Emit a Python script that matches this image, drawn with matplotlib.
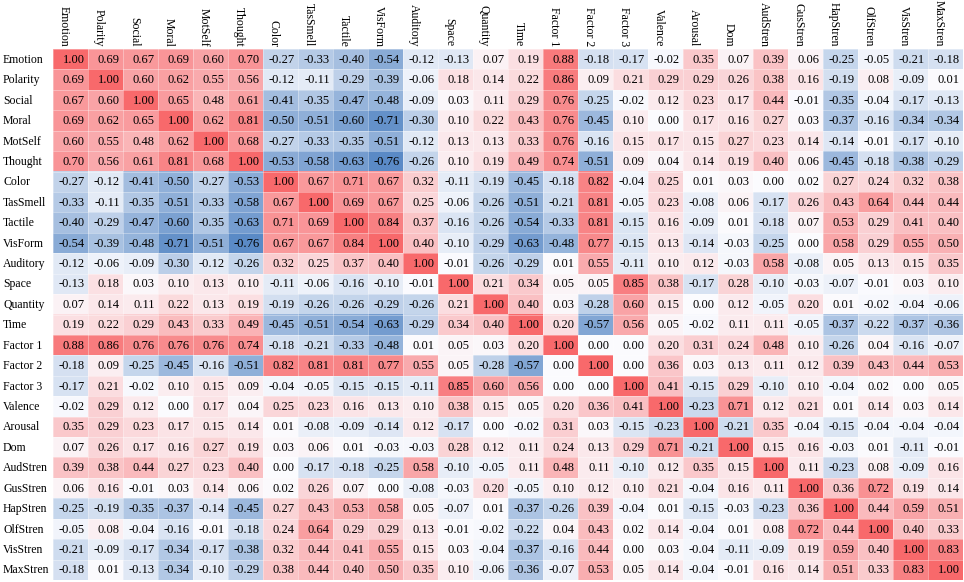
import numpy as np
import matplotlib
matplotlib.use("Agg")
import matplotlib.pyplot as plt
from matplotlib.colors import LinearSegmentedColormap, TwoSlopeNorm

labels = ["Emotion", "Polarity", "Social", "Moral", "MotSelf", "Thought",
          "Color", "TasSmell", "Tactile", "VisForm", "Auditory", "Space",
          "Quantity", "Time", "Factor 1", "Factor 2", "Factor 3", "Valence",
          "Arousal", "Dom", "AudStren", "GusStren", "HapStren", "OlfStren",
          "VisStren", "MaxStren"]

corr = [
    [1.00, 0.69, 0.67, 0.69, 0.60, 0.70, -0.27, -0.33, -0.40, -0.54, -0.12, -0.13, 0.07, 0.19, 0.88, -0.18, -0.17, -0.02, 0.35, 0.07, 0.39, 0.06, -0.25, -0.05, -0.21, -0.18],
    [0.69, 1.00, 0.60, 0.62, 0.55, 0.56, -0.12, -0.11, -0.29, -0.39, -0.06, 0.18, 0.14, 0.22, 0.86, 0.09, 0.21, 0.29, 0.29, 0.26, 0.38, 0.16, -0.19, 0.08, -0.09, 0.01],
    [0.67, 0.60, 1.00, 0.65, 0.48, 0.61, -0.41, -0.35, -0.47, -0.48, -0.09, 0.03, 0.11, 0.29, 0.76, -0.25, -0.02, 0.12, 0.23, 0.17, 0.44, -0.01, -0.35, -0.04, -0.17, -0.13],
    [0.69, 0.62, 0.65, 1.00, 0.62, 0.81, -0.50, -0.51, -0.60, -0.71, -0.30, 0.10, 0.22, 0.43, 0.76, -0.45, 0.10, 0.00, 0.17, 0.16, 0.27, 0.03, -0.37, -0.16, -0.34, -0.34],
    [0.60, 0.55, 0.48, 0.62, 1.00, 0.68, -0.27, -0.33, -0.35, -0.51, -0.12, 0.13, 0.13, 0.33, 0.76, -0.16, 0.15, 0.17, 0.15, 0.27, 0.23, 0.14, -0.14, -0.01, -0.17, -0.10],
    [0.70, 0.56, 0.61, 0.81, 0.68, 1.00, -0.53, -0.58, -0.63, -0.76, -0.26, 0.10, 0.19, 0.49, 0.74, -0.51, 0.09, 0.04, 0.14, 0.19, 0.40, 0.06, -0.45, -0.18, -0.38, -0.29],
    [-0.27, -0.12, -0.41, -0.50, -0.27, -0.53, 1.00, 0.67, 0.71, 0.67, 0.32, -0.11, -0.19, -0.45, -0.18, 0.82, -0.04, 0.25, 0.01, 0.03, 0.00, 0.02, 0.27, 0.24, 0.32, 0.38],
    [-0.33, -0.11, -0.35, -0.51, -0.33, -0.58, 0.67, 1.00, 0.69, 0.67, 0.25, -0.06, -0.26, -0.51, -0.21, 0.81, -0.05, 0.23, -0.08, 0.06, -0.17, 0.26, 0.43, 0.64, 0.44, 0.44],
    [-0.40, -0.29, -0.47, -0.60, -0.35, -0.63, 0.71, 0.69, 1.00, 0.84, 0.37, -0.16, -0.26, -0.54, -0.33, 0.81, -0.15, 0.16, -0.09, 0.01, -0.18, 0.07, 0.53, 0.29, 0.41, 0.40],
    [-0.54, -0.39, -0.48, -0.71, -0.51, -0.76, 0.67, 0.67, 0.84, 1.00, 0.40, -0.10, -0.29, -0.63, -0.48, 0.77, -0.15, 0.13, -0.14, -0.03, -0.25, 0.00, 0.58, 0.29, 0.55, 0.50],
    [-0.12, -0.06, -0.09, -0.30, -0.12, -0.26, 0.32, 0.25, 0.37, 0.40, 1.00, -0.01, -0.26, -0.29, 0.01, 0.55, -0.11, 0.10, 0.12, -0.03, 0.58, -0.08, 0.05, 0.13, 0.15, 0.35],
    [-0.13, 0.18, 0.03, 0.10, 0.13, 0.10, -0.11, -0.06, -0.16, -0.10, -0.01, 1.00, 0.21, 0.34, 0.05, 0.05, 0.85, 0.38, -0.17, 0.28, -0.10, -0.03, -0.07, -0.01, 0.03, 0.10],
    [0.07, 0.14, 0.11, 0.22, 0.13, 0.19, -0.19, -0.26, -0.26, -0.29, -0.26, 0.21, 1.00, 0.40, 0.03, -0.28, 0.60, 0.15, 0.00, 0.12, -0.05, 0.20, 0.01, -0.02, -0.04, -0.06],
    [0.19, 0.22, 0.29, 0.43, 0.33, 0.49, -0.45, -0.51, -0.54, -0.63, -0.29, 0.34, 0.40, 1.00, 0.20, -0.57, 0.56, 0.05, -0.02, 0.11, 0.11, -0.05, -0.37, -0.22, -0.37, -0.36],
    [0.88, 0.86, 0.76, 0.76, 0.76, 0.74, -0.18, -0.21, -0.33, -0.48, 0.01, 0.05, 0.03, 0.20, 1.00, 0.00, 0.00, 0.20, 0.31, 0.24, 0.48, 0.10, -0.26, 0.04, -0.16, -0.07],
    [-0.18, 0.09, -0.25, -0.45, -0.16, -0.51, 0.82, 0.81, 0.81, 0.77, 0.55, 0.05, -0.28, -0.57, 0.00, 1.00, 0.00, 0.36, 0.03, 0.13, 0.11, 0.12, 0.39, 0.43, 0.44, 0.53],
    [-0.17, 0.21, -0.02, 0.10, 0.15, 0.09, -0.04, -0.05, -0.15, -0.15, -0.11, 0.85, 0.60, 0.56, 0.00, 0.00, 1.00, 0.41, -0.15, 0.29, -0.10, 0.10, -0.04, 0.02, 0.00, 0.05],
    [-0.02, 0.29, 0.12, 0.00, 0.17, 0.04, 0.25, 0.23, 0.16, 0.13, 0.10, 0.38, 0.15, 0.05, 0.20, 0.36, 0.41, 1.00, -0.23, 0.71, 0.12, 0.21, 0.01, 0.14, 0.03, 0.14],
    [0.35, 0.29, 0.23, 0.17, 0.15, 0.14, 0.01, -0.08, -0.09, -0.14, 0.12, -0.17, 0.00, -0.02, 0.31, 0.03, -0.15, -0.23, 1.00, -0.21, 0.35, -0.04, -0.15, -0.04, -0.04, -0.04],
    [0.07, 0.26, 0.17, 0.16, 0.27, 0.19, 0.03, 0.06, 0.01, -0.03, -0.03, 0.28, 0.12, 0.11, 0.24, 0.13, 0.29, 0.71, -0.21, 1.00, 0.15, 0.16, -0.03, 0.01, -0.11, -0.01],
    [0.39, 0.38, 0.44, 0.27, 0.23, 0.40, 0.00, -0.17, -0.18, -0.25, 0.58, -0.10, -0.05, 0.11, 0.48, 0.11, -0.10, 0.12, 0.35, 0.15, 1.00, 0.11, -0.23, 0.08, -0.09, 0.16],
    [0.06, 0.16, -0.01, 0.03, 0.14, 0.06, 0.02, 0.26, 0.07, 0.00, -0.08, -0.03, 0.20, -0.05, 0.10, 0.12, 0.10, 0.21, -0.04, 0.16, 0.11, 1.00, 0.36, 0.72, 0.19, 0.14],
    [-0.25, -0.19, -0.35, -0.37, -0.14, -0.45, 0.27, 0.43, 0.53, 0.58, 0.05, -0.07, 0.01, -0.37, -0.26, 0.39, -0.04, 0.01, -0.15, -0.03, -0.23, 0.36, 1.00, 0.44, 0.59, 0.51],
    [-0.05, 0.08, -0.04, -0.16, -0.01, -0.18, 0.24, 0.64, 0.29, 0.29, 0.13, -0.01, -0.02, -0.22, 0.04, 0.43, 0.02, 0.14, -0.04, 0.01, 0.08, 0.72, 0.44, 1.00, 0.40, 0.33],
    [-0.21, -0.09, -0.17, -0.34, -0.17, -0.38, 0.32, 0.44, 0.41, 0.55, 0.15, 0.03, -0.04, -0.37, -0.16, 0.44, 0.00, 0.03, -0.04, -0.11, -0.09, 0.19, 0.59, 0.40, 1.00, 0.83],
    [-0.18, 0.01, -0.13, -0.34, -0.10, -0.29, 0.38, 0.44, 0.40, 0.50, 0.35, 0.10, -0.06, -0.36, -0.07, 0.53, 0.05, 0.14, -0.04, -0.01, 0.16, 0.14, 0.51, 0.33, 0.83, 1.00],
]

plt.rcParams['font.family'] = ['Liberation Serif', 'DejaVu Serif']

data = np.array(corr)
n = len(labels)

# excel-like 3 colour scale
cmap = LinearSegmentedColormap.from_list("xl", ["#5A8AC6", "#FCFCFF", "#F8696B"])
norm = TwoSlopeNorm(vmin=data.min(), vcenter=0.0, vmax=data.max())

W, H = 964, 582
fig = plt.figure(figsize=(W / 100, H / 100), dpi=100)
left, top, right, bottom = 53, 49, 963, 580
ax = fig.add_axes([left / W, 1 - bottom / H, (right - left) / W, (bottom - top) / H])

ax.imshow(data, cmap=cmap, norm=norm, aspect='auto', interpolation='nearest')
ax.set_xlim(-0.5, n - 0.5)
ax.set_ylim(n - 0.5, -0.5)
ax.set_xticks([])
ax.set_yticks([])
for s in ax.spines.values():
    s.set_visible(False)

# faint cell borders
for k in range(n + 1):
    ax.axhline(k - 0.5, color='white', lw=0.4, alpha=0.6)
    ax.axvline(k - 0.5, color='white', lw=0.4, alpha=0.6)

for i in range(n):
    for j in range(n):
        ax.text(j + 0.41, i + 0.03, f"{data[i, j]:.2f}", ha='right', va='center',
                fontsize=9, color='black')

for j, lab in enumerate(labels):
    ax.text(j - 0.36, -0.62, lab, rotation=-90, ha='left', va='bottom',
            fontsize=8.5, clip_on=False)

for i, lab in enumerate(labels):
    ax.text(-0.5 - 50 / 35.0, i + 0.03, lab, ha='left', va='center',
            fontsize=8.5, clip_on=False)

fig.savefig("out.png", dpi=100)
